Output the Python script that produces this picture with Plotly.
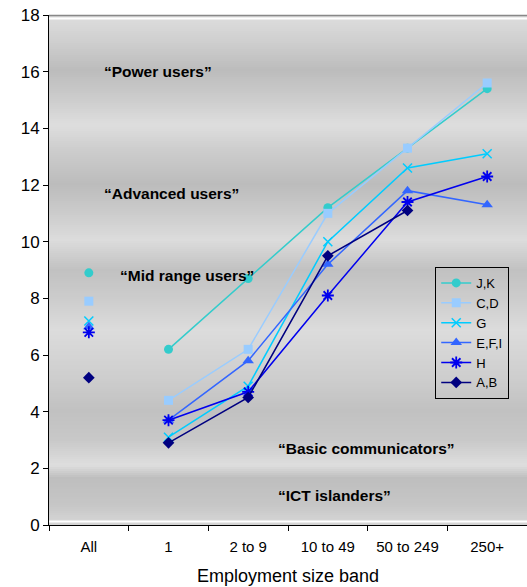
import numpy as np
import plotly.graph_objects as go

# Categories on the x axis
categories = ["All", "1", "2 to 9", "10 to 49", "50 to 249", "250+"]
bands = categories[1:]

# Overall value ("All") for each sector group
all_values = {
    "J,K": 8.9,
    "C,D": 7.9,
    "G": 7.2,
    "E,F,I": 7.0,
    "H": 6.8,
    "A,B": 5.2,
}

# Values per employment size band
jk = [6.2, 8.7, 11.2, 13.3, 15.4]
cd = [4.4, 6.2, 11.0, 13.3, 15.6]
g = [3.1, 4.9, 10.0, 12.6, 13.1]
efi = [3.7, 5.8, 9.2, 11.8, 11.3]
h = [3.7, 4.7, 8.1, 11.4, 12.3]
ab = [2.9, 4.5, 9.5, 11.1, None]

series = [
    ("J,K", jk, "#33CCCC", "circle", 9, 0),
    ("C,D", cd, "#99CCFF", "square", 9, 0),
    ("G", g, "#00CCFF", "x-thin-open", 9, 1.5),
    ("E,F,I", efi, "#3366FF", "triangle-up", 10, 0),
    ("H", h, "#0000EE", "asterisk-open", 10, 1.8),
    ("A,B", ab, "#000080", "diamond", 9, 0),
]

# Band labels written across the plot area: (text, x position, y value)
band_labels = [
    ("\u201cPower users\u201d", 0.17, 16.0),
    ("\u201cAdvanced users\u201d", 0.17, 11.7),
    ("\u201cMid range users\u201d", 0.36, 8.8),
    ("\u201cBasic communicators\u201d", 2.35, 2.7),
    ("\u201cICT islanders\u201d", 2.35, 1.05),
]

FONT = '"Liberation Sans", Arial, sans-serif'

fig = go.Figure()

for name, vals, color, symbol, size, lw in series:
    mline = dict(color=color, width=lw) if lw else dict(width=0)
    fig.add_trace(go.Scatter(
        x=bands, y=vals, name=name, mode="lines+markers",
        line=dict(color=color, width=1.5),
        marker=dict(symbol=symbol, size=size, color=color, line=mline),
        legendgroup=name, connectgaps=False,
    ))
    fig.add_trace(go.Scatter(
        x=["All"], y=[all_values[name]], name=name, mode="markers",
        marker=dict(symbol=symbol, size=size, color=color, line=mline),
        legendgroup=name, showlegend=False,
    ))

# Banded grey gradient behind the plot (pixel row -> grey level)
px_top, px_bot = 15, 525
stops_px = [15, 40, 70, 100, 125, 150, 185, 215, 240, 270, 300, 330, 380, 410, 440, 465, 478, 505, 521]
stops_gray = [222, 208, 188, 205, 222, 205, 188, 205, 220, 193, 205, 220, 205, 193, 200, 222, 190, 198, 212]
shapes = []
rows = np.arange(px_top, px_bot, 2)
for r in rows:
    gv = int(round(np.interp(r + 1, stops_px, stops_gray)))
    y0 = (px_bot - (r + 2)) / (px_bot - px_top)
    y1 = (px_bot - r) / (px_bot - px_top)
    shapes.append(dict(type="rect", xref="paper", yref="paper", x0=0, x1=1,
                       y0=max(y0, 0), y1=min(y1, 1), layer="below",
                       fillcolor=f"rgb({gv},{gv},{gv})", line=dict(width=0)))
# thin white rims at top and bottom of the plot area
shapes.append(dict(type="line", xref="paper", yref="paper", x0=0, x1=1, y0=0.993, y1=0.993,
                   layer="below", line=dict(color="white", width=2)))
shapes.append(dict(type="line", xref="paper", yref="paper", x0=0, x1=1, y0=0.999, y1=0.999,
                   layer="below", line=dict(color="#888888", width=1.5)))
shapes.append(dict(type="line", xref="paper", yref="paper", x0=0, x1=1, y0=0.007, y1=0.007,
                   layer="below", line=dict(color="white", width=2)))

annotations = [
    dict(text=f"<b>{t}</b>", x=xv, y=yv, xref="x", yref="y", xanchor="left", yanchor="middle",
         showarrow=False, font=dict(family=FONT, size=15.5, color="black"))
    for t, xv, yv in band_labels
]

fig.update_layout(
    width=527, height=587,
    margin=dict(l=49, r=0, t=15, b=62),
    paper_bgcolor="white", plot_bgcolor="#cccccc",
    font=dict(family=FONT, color="black"),
    shapes=shapes, annotations=annotations,
    showlegend=True,
    legend=dict(x=0.808, y=0.506, xanchor="left", yanchor="top",
                bgcolor="rgba(0,0,0,0)", bordercolor="black", borderwidth=1,
                font=dict(family=FONT, size=13), tracegroupgap=0,
                itemwidth=30),
)
fig.update_xaxes(
    type="category", categoryorder="array", categoryarray=categories,
    range=[-0.5, 5.5], tickson="boundaries", ticks="outside", ticklen=5,
    tickcolor="black", showline=True, linecolor="black", linewidth=1,
    showgrid=False, zeroline=False, ticklabelstandoff=8,
    tickfont=dict(family=FONT, size=15),
    title=dict(text="Employment size band", font=dict(family=FONT, size=18), standoff=15),
)
fig.update_yaxes(
    range=[0, 18], dtick=2, ticks="outside", ticklen=5, tickcolor="black",
    showline=True, linecolor="black", linewidth=1, showgrid=False, zeroline=False,
    tickfont=dict(family=FONT, size=17),
)

fig.write_html("out.html")
